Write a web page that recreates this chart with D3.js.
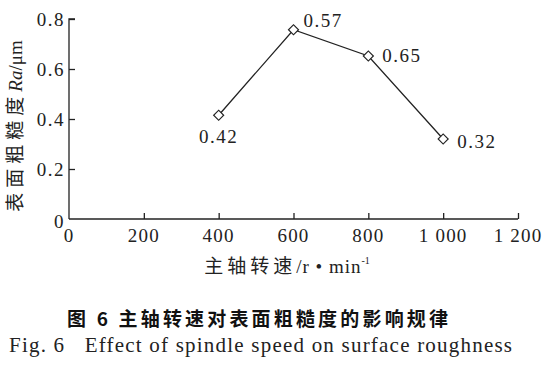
<!DOCTYPE html>
<html><head><meta charset="utf-8">
<script src="https://cdn.jsdelivr.net/npm/d3@7"></script>
<style>body{margin:0;background:#fff}svg{display:block}</style>
</head><body>
<svg id="c" width="557" height="381"></svg>
<script>
const speeds = [400, 600, 800, 1000];
const roughness = [0.415, 0.757, 0.652, 0.32];
const pointLabels = ["0.42", "0.57", "0.65", "0.32"];
const xTicks = [0, 200, 400, 600, 800, 1000, 1200];
const xTickLabels = ["0", "200", "400", "600", "800", "1 000", "1 200"];
const yTicks = [0, 0.2, 0.4, 0.6, 0.8];
const yTickLabels = ["0", "0.2", "0.4", "0.6", "0.8"];

const svg = d3.select("#c");
const serif = "'Liberation Serif','Times New Roman',serif";
const cjk = "'Noto Sans CJK SC',sans-serif";
const ink = "#222";

const x = d3.scaleLinear().domain([0, 1200]).range([69, 518]);
const y = d3.scaleLinear().domain([0, 0.8]).range([219, 19]);

// axes
const xAxis = svg.append("g").attr("transform", `translate(0,${y(0)})`)
  .call(d3.axisTop(x).tickValues(xTicks.slice(1)).tickSize(6).tickFormat(""));
xAxis.select(".domain").attr("d", `M${x(0)},0H${x(1200)}`);
xAxis.selectAll("path,line").attr("stroke", ink).attr("stroke-width", 1.3);

const yAxis = svg.append("g").attr("transform", `translate(${x(0)},0)`)
  .call(d3.axisRight(y).tickValues(yTicks.slice(1)).tickSize(6).tickFormat(""));
yAxis.select(".domain").attr("d", `M0,${y(0)}V${y(0.8)}H6`);
yAxis.selectAll("path,line").attr("stroke", ink).attr("stroke-width", 1.3);

// tick labels
svg.append("g").selectAll("text").data(xTicks).join("text")
  .attr("x", d => x(d)).attr("y", 242)
  .attr("text-anchor", "middle")
  .attr("font-family", serif).attr("font-size", 19).attr("letter-spacing", 1.2)
  .attr("fill", ink)
  .text((d, i) => xTickLabels[i].replace(" ", "\u00a0"));

svg.append("g").selectAll("text").data(yTicks).join("text")
  .attr("x", 65).attr("y", d => y(d) + 6.5 + (d === 0 ? 2 : 0))
  .attr("text-anchor", "end")
  .attr("font-family", serif).attr("font-size", 19).attr("letter-spacing", 1.5)
  .attr("fill", ink)
  .text((d, i) => yTickLabels[i]);

// line
const line = d3.line().x((d, i) => x(speeds[i])).y(d => y(d));
svg.append("path").datum(roughness).attr("d", line)
  .attr("fill", "none").attr("stroke", ink).attr("stroke-width", 1.3);

// diamonds
svg.append("g").selectAll("path").data(roughness).join("path")
  .attr("d", d3.symbol(d3.symbolSquare, 50))
  .attr("transform", (d, i) => `translate(${x(speeds[i])},${y(d)}) rotate(45)`)
  .attr("fill", "#fff").attr("stroke", ink).attr("stroke-width", 1.2);

// point labels
const lblOff = [[0, 28, "middle"], [10, -3, "start"], [14, 6, "start"], [14, 9, "start"]];
svg.append("g").selectAll("text").data(roughness).join("text")
  .attr("x", (d, i) => x(speeds[i]) + lblOff[i][0])
  .attr("y", (d, i) => y(d) + lblOff[i][1])
  .attr("text-anchor", (d, i) => lblOff[i][2])
  .attr("font-family", serif).attr("font-size", 19).attr("letter-spacing", 1.5)
  .attr("fill", ink)
  .text((d, i) => pointLabels[i]);

// axis titles
const xt = svg.append("text").attr("x", 287).attr("y", 273).attr("text-anchor", "middle")
  .attr("font-size", 19).attr("fill", ink);
xt.append("tspan").attr("font-family", cjk).attr("letter-spacing", 4).text("主轴转速");
xt.append("tspan").attr("font-family", serif).attr("letter-spacing", 1).text("/r • min");
xt.append("tspan").attr("font-family", serif).attr("font-size", 10).attr("dy", -9).text("-1");

const yt = svg.append("text").attr("transform", "translate(22,126) rotate(-90)")
  .attr("text-anchor", "middle").attr("font-size", 19).attr("fill", ink);
yt.append("tspan").attr("font-family", cjk).attr("letter-spacing", 5).text("表面粗糙度");
yt.append("tspan").attr("font-family", serif).attr("font-style", "italic").text("Ra");
yt.append("tspan").attr("font-family", serif).text("/μm");

// captions
svg.append("text").attr("x", 67).attr("y", 326)
  .attr("font-family", cjk).attr("font-weight", "bold").attr("font-size", 19)
  .attr("textLength", 381).attr("lengthAdjust", "spacing").attr("fill", "#111")
  .text("图\u00a06\u00a0主轴转速对表面粗糙度的影响规律");
svg.append("text").attr("x", 9).attr("y", 352)
  .attr("font-family", serif).attr("font-size", 21)
  .attr("textLength", 503).attr("lengthAdjust", "spacing").attr("fill", ink)
  .text("Fig.\u00a06\u00a0\u00a0\u00a0Effect of spindle speed on surface roughness");
</script>
</body></html>
